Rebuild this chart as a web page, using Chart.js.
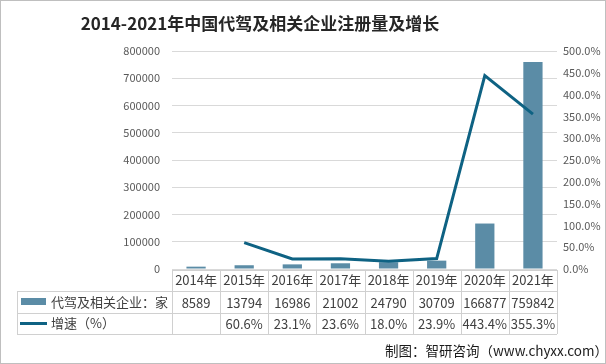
<!DOCTYPE html>
<html>
<head>
<meta charset="utf-8">
<script src="https://cdn.jsdelivr.net/npm/chart.js@4.4.0/dist/chart.umd.min.js"></script>
<style>
  html, body { margin: 0; padding: 0; background: #fff; }
  canvas { display: block; }
</style>
</head>
<body>
<canvas id="myChart" width="606" height="364"></canvas>
<script>
'use strict';

// data
let years = ['2014', '2015', '2016', '2017', '2018', '2019', '2020', '2021'];
let companies = [8589, 13794, 16986, 21002, 24790, 30709, 166877, 759842];
let growth = [null, 60.6, 23.1, 23.6, 18.0, 23.9, 443.4, 355.3];
let growthText = ['', '60.6%', '23.1%', '23.6%', '18.0%', '23.9%', '443.4%', '355.3%'];

let leftMax = 800000;
let leftStep = 100000;
let rightMax = 500;
let rightStep = 50;

let titleText = '2014-2021年中国代驾及相关企业注册量及增长';
let sourceText = '制图：智研咨询（www.chyxx.com）';

const font = '"Noto Sans CJK SC", "Microsoft YaHei", sans-serif';
const barColor = '#5b8ca6';
const lineColor = '#0e6283';
const gridColor = '#d9d9d9';

// title, source line and frame
const framePlugin = {
  id: 'frame',
  beforeDraw(chart) {
    let ctx = chart.ctx;
    ctx.save();
    ctx.fillStyle = '#fff';
    ctx.fillRect(0, 0, chart.width, chart.height);
    ctx.strokeStyle = '#bfbfbf';
    ctx.lineWidth = 1;
    ctx.strokeRect(0.5, 0.5, chart.width - 1, chart.height - 1);
    ctx.restore();
  },
  afterDraw(chart) {
    let ctx = chart.ctx;
    ctx.save();
    ctx.textBaseline = 'middle';
    ctx.fillStyle = '#262626';
    ctx.font = 'bold 17px ' + font;
    ctx.textAlign = 'center';
    ctx.fillText(titleText, 260, 24);
    ctx.fillStyle = '#1a1a1a';
    ctx.font = '13.5px ' + font;
    ctx.textAlign = 'right';
    ctx.fillText(sourceText, 608, 351);
    ctx.restore();
  }
};

// data table under the x axis
const tablePlugin = {
  id: 'dataTable',
  afterDraw(chart) {
    let ctx = chart.ctx;
    let xScale = chart.scales.x;
    let area = chart.chartArea;
    let colW = (area.right - area.left) / years.length;
    let top = area.bottom + 1;
    let rows = [top, top + 21, top + 43, top + 64];
    let legendLeft = 17;

    ctx.save();
    ctx.strokeStyle = '#d0d0d0';
    ctx.lineWidth = 1;
    ctx.beginPath();
    // horizontal lines
    ctx.moveTo(area.left, rows[0] + 0.5);
    ctx.lineTo(area.right, rows[0] + 0.5);
    for (let r = 1; r < rows.length; r++) {
      ctx.moveTo(legendLeft, rows[r] + 0.5);
      ctx.lineTo(area.right, rows[r] + 0.5);
    }
    // vertical lines
    for (let i = 0; i <= years.length; i++) {
      let x = Math.round(area.left + i * colW) + 0.5;
      ctx.moveTo(x, rows[0]);
      ctx.lineTo(x, rows[3]);
    }
    ctx.moveTo(legendLeft + 0.5, rows[1]);
    ctx.lineTo(legendLeft + 0.5, rows[3]);
    ctx.stroke();

    // legend keys
    let ds = chart.data.datasets;
    let y1 = (rows[1] + rows[2]) / 2;
    let y2 = (rows[2] + rows[3]) / 2;
    ctx.fillStyle = ds[0].backgroundColor;
    ctx.fillRect(21, y1 - 4, 25, 7);
    ctx.strokeStyle = ds[1].borderColor;
    ctx.lineWidth = 3;
    ctx.beginPath();
    ctx.moveTo(20, y2);
    ctx.lineTo(47, y2);
    ctx.stroke();

    ctx.font = '13px ' + font;
    ctx.fillStyle = '#404040';
    ctx.textBaseline = 'middle';
    ctx.textAlign = 'left';
    ctx.fillText(ds[0].label, 51, y1);
    ctx.fillText(ds[1].label, 51, y2);

    ctx.textAlign = 'center';
    for (let i = 0; i < years.length; i++) {
      let x = xScale.getPixelForValue(i);
      ctx.fillText(String(companies[i]), x, y1 + 1);
      ctx.fillText(growthText[i], x, y2 + 1);
    }
    ctx.restore();
  }
};

let chartCanvas = document.getElementById('myChart').getContext('2d');

const config = {
  type: 'bar',
  data: {
    labels: years.map(y => y + '年'),
    datasets: [
      {
        type: 'bar',
        label: '代驾及相关企业：家',
        data: companies,
        backgroundColor: barColor,
        yAxisID: 'y',
        barPercentage: 0.4,
        categoryPercentage: 1,
        order: 1,
      },
      {
        type: 'line',
        label: '增速（%）',
        data: growth,
        borderColor: lineColor,
        backgroundColor: lineColor,
        borderWidth: 3,
        pointRadius: 0,
        tension: 0,
        yAxisID: 'y1',
        order: 0,
      },
    ],
  },
  options: {
    responsive: false,
    animation: false,
    layout: { padding: { top: 51, left: 0, right: 0, bottom: 0 } },
    plugins: {
      legend: { display: false },
      title: { display: false },
      tooltip: { enabled: false },
    },
    scales: {
      x: {
        offset: true,
        grid: { display: false, drawTicks: false },
        border: { display: false },
        ticks: {
          color: '#404040',
          font: { family: font, size: 13 },
          padding: 3,
          maxRotation: 0,
          autoSkip: false,
        },
        afterFit(scale) { scale.height = 95; },
      },
      y: {
        position: 'left',
        min: 0,
        max: leftMax,
        grid: { color: gridColor, drawTicks: false },
        border: { display: false },
        ticks: {
          stepSize: leftStep,
          color: '#595959',
          font: { family: font, size: 11 },
          padding: 12,
          callback: v => String(v),
        },
        afterFit(scale) { scale.width = 172; },
      },
      y1: {
        position: 'right',
        min: 0,
        max: rightMax,
        grid: { display: false, drawTicks: false },
        border: { display: false },
        ticks: {
          stepSize: rightStep,
          color: '#595959',
          font: { family: font, size: 11 },
          padding: 6,
          autoSkip: false,
          callback: v => v.toFixed(1) + '%',
        },
        afterFit(scale) { scale.width = 49; },
      },
    },
  },
  plugins: [framePlugin, tablePlugin],
};

const myChart = new Chart(chartCanvas, config);
</script>
</body>
</html>
